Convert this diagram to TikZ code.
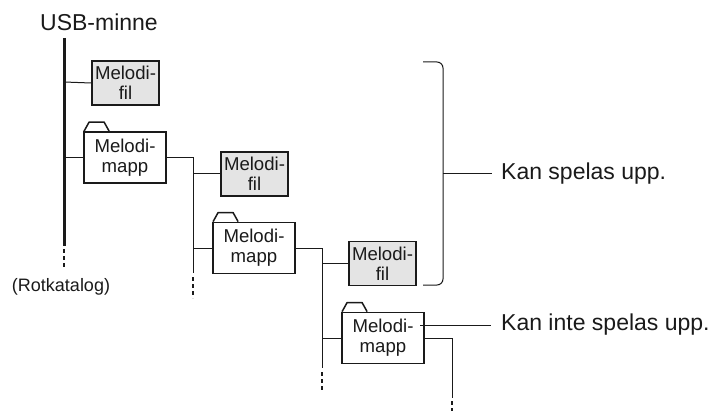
\documentclass[tikz,border=0pt]{standalone}
\usepackage{fontspec}
\setmainfont{Liberation Sans}
\usetikzlibrary{calc}
\definecolor{filegray}{HTML}{E4E4E4}
\definecolor{ink}{HTML}{1A1A1A}
\tikzset{
  filebox/.style={draw=ink, line width=1.5pt, fill=filegray, minimum width=67pt, minimum height=44pt, inner sep=0pt, align=center, font=\fontsize{18.6}{20}\selectfont, text=ink},
  folderbox/.style={draw=ink, line width=1.8pt, fill=white, minimum width=82pt, minimum height=51pt, inner sep=0pt, align=center, font=\fontsize{18.6}{20}\selectfont, text=ink},
  conn/.style={draw=ink, line width=1pt},
  dashline/.style={draw=ink, line width=1.3pt, dash pattern=on 4pt off 3pt},
  tabline/.style={draw=ink, line width=1.5pt, line join=round},
  bigtext/.style={font=\fontsize{23}{26}\selectfont, text=ink, inner sep=0pt},
}
\begin{document}
\begin{tikzpicture}[x=1pt, y=-1pt]
\useasboundingbox (0,0) rectangle (717,414);
% root
\node[bigtext] (usb) at (99,22) {USB-minne};
\node[font=\fontsize{18}{20}\selectfont, text=ink, inner sep=0pt] (rot) at (61,287) {(Rotkatalog)};
\coordinate (rtop) at (64,38);
\coordinate (rbot) at (64,246);
\coordinate (rdot) at (64,268);
\draw[ink, line width=3pt] (rtop) -- (rbot);
\draw[ink, line width=2.6pt, dash pattern=on 4pt off 3pt] (64,249) -- (rdot);

% nodes
\node[filebox] (fil1) at (125.5,83) {Melodi-\\fil};
\node[folderbox] (mapp1) at (125,157.5) {Melodi-\\mapp};
\node[filebox] (fil2) at (254.5,174) {Melodi-\\fil};
\node[folderbox] (mapp2) at (254,248) {Melodi-\\mapp};
\node[filebox] (fil3) at (382.5,263.5) {Melodi-\\fil};
\node[folderbox] (mapp3) at (383,338) {Melodi-\\mapp};

% folder tabs
\foreach \m in {mapp1,mapp2,mapp3}{
  \draw[tabline] ($(\m.north west)+(1pt,0)$) -- ++(5pt,9pt) -- ++(15pt,0) -- ++(5pt,-9pt);
}

% level 1 connectors
\draw[conn] (64,82) -- (fil1.west);
\draw[conn] (64,157.5) -- (mapp1.west);

% level 2
\coordinate (b1) at (193,157.5);
\coordinate (b1e) at (193,273);
\draw[conn] (mapp1.east) -- (b1) -- (b1e);
\draw[dashline] (193,277) -- (193,298);
\draw[conn] (193,174) -- (fil2.west);
\draw[conn] (193,248) -- (mapp2.west);

% level 3
\coordinate (b2) at (322,248);
\coordinate (b2e) at (322,368);
\draw[conn] (mapp2.east) -- (b2) -- (b2e);
\draw[dashline] (322,372) -- (322,390);
\draw[conn] (322,263.5) -- (fil3.west);
\draw[conn] (322,338) -- (mapp3.west);

% level 4
\coordinate (b3) at (452,338);
\coordinate (b3e) at (452,398);
\draw[conn] (mapp3.east) -- (b3) -- (b3e);
\draw[dashline] (452,401) -- (452,411);

% brace
\coordinate (bt) at (423,62);
\coordinate (bb) at (423,285);
\draw[conn, rounded corners=6pt] (bt) -- (443,62) -- (443,285) -- (bb);
\node[bigtext, anchor=west] (can) at (501,174) {Kan spelas upp.};
\draw[conn] (443,174) -- (can.west -| 492,0);

% cannot
\coordinate (cs) at (420,325);
\node[bigtext, anchor=west] (cannot) at (501,325) {Kan inte spelas upp.};
\draw[conn] (cs) -- (491,325);
\end{tikzpicture}
\end{document}
